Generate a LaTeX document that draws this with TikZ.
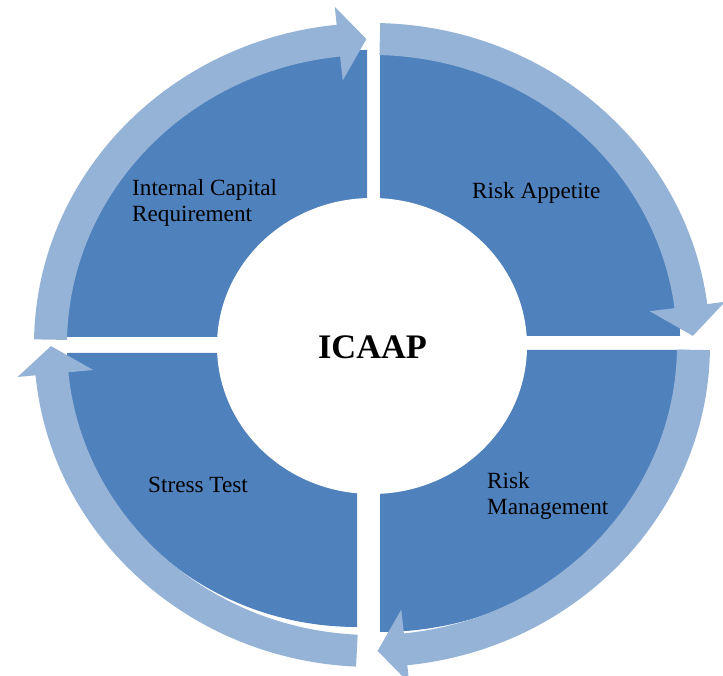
\documentclass[tikz,border=0pt]{standalone}
\usepackage{fontspec}
\setmainfont{Liberation Serif}
\usetikzlibrary{calc}
\definecolor{darkblue}{HTML}{4F81BD}
\definecolor{lightblue}{HTML}{95B3D7}
\tikzset{
    quad/.style={fill=darkblue},
    ring/.style={fill=lightblue},
    lbl/.style={inner sep=0pt, align=left, font=\fontsize{23.2}{26}\selectfont}
}
\begin{document}
\begin{tikzpicture}[x=1pt,y=1pt]
    \useasboundingbox (0,0) rectangle (723,676);
    \coordinate (C) at (372,331);

    % Quadrants
    \fill[quad] (367,339) -- ++(-302pt,0) arc[start angle=180, end angle=90, x radius=302pt, y radius=287pt] -- cycle;
    \fill[quad] (380,340) -- ++(300pt,0) arc[start angle=0, end angle=90, x radius=300pt, y radius=286pt] -- cycle;
    \fill[quad] (380,326) -- ++(305pt,0) arc[start angle=0, end angle=-90, x radius=305pt, y radius=282pt] -- cycle;
    \fill[quad] (357,323) -- ++(-290pt,0) arc[start angle=180, end angle=270, x radius=290pt, y radius=274pt] -- cycle;

    % Circular arrows
    \foreach \s/\b/\t in {179/96/91, 88.6/7.3/1.7, -0.9/-84/-89, -92.7/-174.6/-179.8} {
        \fill[ring] ($(C)+(\s:338pt and 322pt)$)
            arc[start angle=\s, end angle=\b, x radius=338pt, y radius=322pt]
            -- ($(C)+(\b:356pt and 340pt)$)
            -- ($(C)+(\t:321pt and 306pt)$)
            -- ($(C)+(\b:280pt and 266pt)$)
            -- ($(C)+(\b:305pt and 290pt)$)
            arc[start angle=\b, end angle=\s, x radius=305pt, y radius=290pt]
            -- cycle;
    }

    % Centre
    \fill[white] (372,330) ellipse[x radius=155pt, y radius=148pt];
    \node[inner sep=0pt, anchor=base, font=\fontsize{34.4}{40}\selectfont\bfseries] (icaap) at (372.5,317) {ICAAP};

    \node[lbl, anchor=base west] (req) at (132,454) {Internal Capital\\Requirement};
    \node[lbl, anchor=base west] (appetite) at (472,477) {Risk Appetite};
    \node[lbl, anchor=base west] (mgmt) at (487,161) {Risk\\Management};
    \node[lbl, anchor=base west] (stress) at (148,183) {Stress Test};
\end{tikzpicture}
\end{document}
